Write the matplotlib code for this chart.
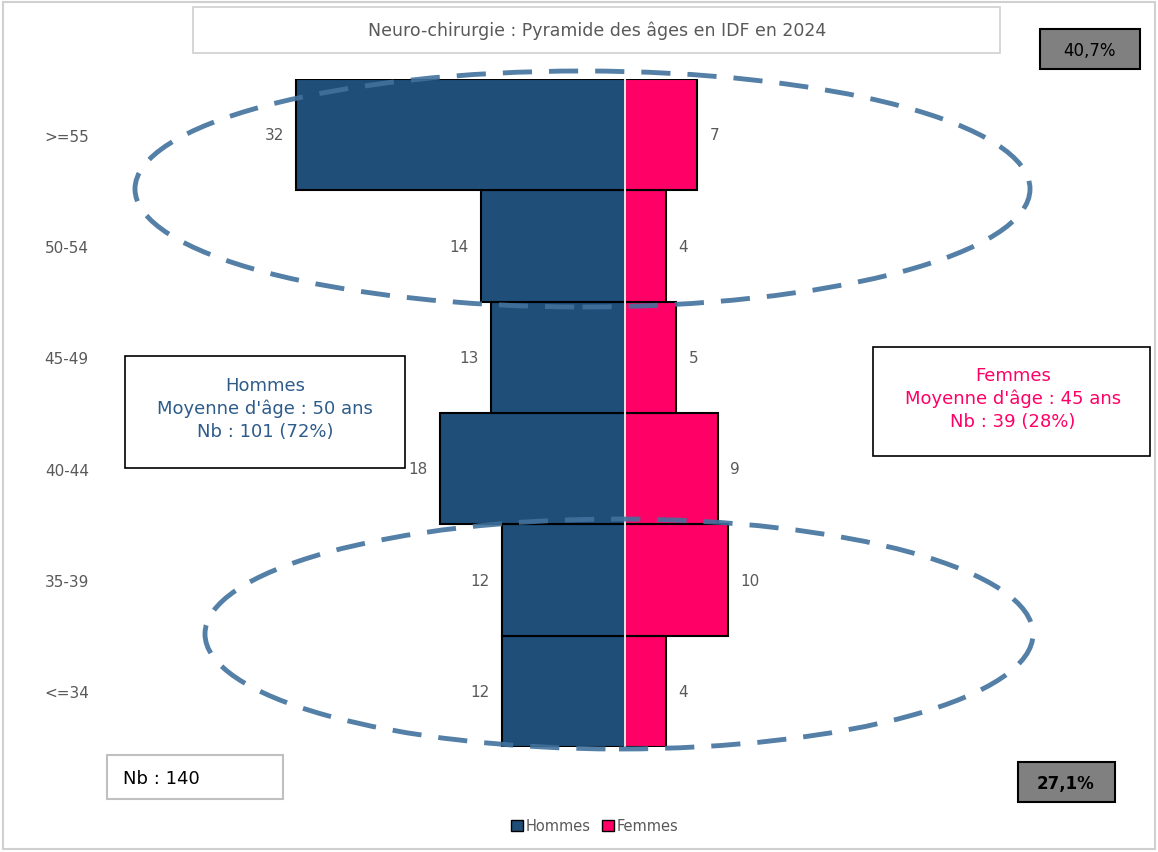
import matplotlib.pyplot as plt
from matplotlib.patches import Ellipse, Rectangle, Patch

# Data
age_groups = ['<=34', '35-39', '40-44', '45-49', '50-54', '>=55']
hommes = [12, 12, 18, 13, 14, 32]
femmes = [4, 10, 9, 5, 4, 7]

men_color = '#1F4E79'
women_color = '#FF0066'
grey_txt = '#595959'

W, H = 1158, 853
fig = plt.figure(figsize=(W / 100, H / 100), dpi=100)


def fx(px):
    return px / W


def fy(py):
    return 1 - py / H


ax = fig.add_axes([fx(111), fy(748), fx(1139) - fx(111), fy(80) - fy(748)])

y = range(len(age_groups))
ax.barh(y, [-v for v in hommes], height=1.0, color=men_color,
        edgecolor='black', linewidth=1.5, label='Hommes')
ax.barh(y, femmes, height=1.0, color=women_color,
        edgecolor='black', linewidth=1.5, label='Femmes')
ax.axvline(0, color='#E0E0E0', linewidth=1.5, zorder=3)

for i, (h, f) in enumerate(zip(hommes, femmes)):
    ax.text(-h - 1.2, i, str(h), ha='right', va='center', fontsize=11, color=grey_txt)
    ax.text(f + 1.2, i, str(f), ha='left', va='center', fontsize=11, color=grey_txt)

ax.set_xlim(-50, 50)
ax.set_ylim(-0.5, len(age_groups) - 0.5)
ax.set_yticks(list(y))
ax.set_yticklabels(age_groups, fontsize=11, color=grey_txt)
ax.tick_params(axis='y', length=0, pad=16)
ax.set_xticks([])
for s in ax.spines.values():
    s.set_visible(False)

# figure border
fig.add_artist(Rectangle((fx(3), fy(850)), fx(1152), fy(3) - fy(850), transform=fig.transFigure,
                         fill=False, edgecolor='#D0D0D0', linewidth=1.5))


def box(x0, y0, x1, y1, edge='black', face='white', lw=1.2):
    fig.add_artist(Rectangle((fx(x0), fy(y1)), fx(x1 - x0), fy(y0) - fy(y1),
                             transform=fig.transFigure, facecolor=face,
                             edgecolor=edge, linewidth=lw, zorder=5))


# title box
box(193, 8, 1000, 54, edge='#D0D0D0')
fig.text(fx(597), fy(31), 'Neuro-chirurgie : Pyramide des âges en IDF en 2024',
         ha='center', va='center', fontsize=12.5, color=grey_txt, zorder=6)

# percentage boxes
box(1040, 30, 1140, 70, face='#808080', lw=1.5)
fig.text(fx(1090), fy(51), '40,7%', ha='center', va='center', fontsize=12, color='black', zorder=6)
box(1018, 763, 1115, 803, face='#808080', lw=1.5)
fig.text(fx(1066), fy(784), '27,1%', ha='center', va='center', fontsize=12,
         fontweight='bold', color='black', zorder=6)

# Nb box
box(107, 756, 283, 800, edge='#C0C0C0', lw=1.5)
fig.text(fx(123), fy(779), 'Nb : 140', ha='left', va='center', fontsize=13, color='black', zorder=6)

# Hommes / Femmes boxes
box(125, 357, 405, 469)
fig.text(fx(265), fy(409), "Hommes\nMoyenne d'âge : 50 ans\nNb : 101 (72%)",
         ha='center', va='center', fontsize=13, color='#2E5C8A', linespacing=1.35, zorder=6)
box(873, 348, 1150, 457)
fig.text(fx(1013), fy(399), "Femmes\nMoyenne d'âge : 45 ans\nNb : 39 (28%)",
         ha='center', va='center', fontsize=13, color=women_color, linespacing=1.35, zorder=6)

# dashed ellipses
for (x0, y0, x1, y1) in [(135, 72, 1030, 308), (205, 520, 1033, 750)]:
    fig.add_artist(Ellipse((fx((x0 + x1) / 2), fy((y0 + y1) / 2)), fx(x1 - x0),
                           fy(y0) - fy(y1), transform=fig.transFigure, fill=False,
                           edgecolor='#41719C', linewidth=3.5, linestyle=(0, (6, 3.5)),
                           alpha=0.9, zorder=4))

handles = [Patch(facecolor=men_color, edgecolor='black', label='Hommes'),
           Patch(facecolor=women_color, edgecolor='black', label='Femmes')]
fig.legend(handles=handles, loc='center', bbox_to_anchor=(fx(595), fy(827)), ncol=2,
           frameon=False, fontsize=10.5, labelcolor=grey_txt, handlelength=0.8,
           handleheight=0.8, handletextpad=0.2, columnspacing=0.8)

fig.savefig('out.png', dpi=100)
